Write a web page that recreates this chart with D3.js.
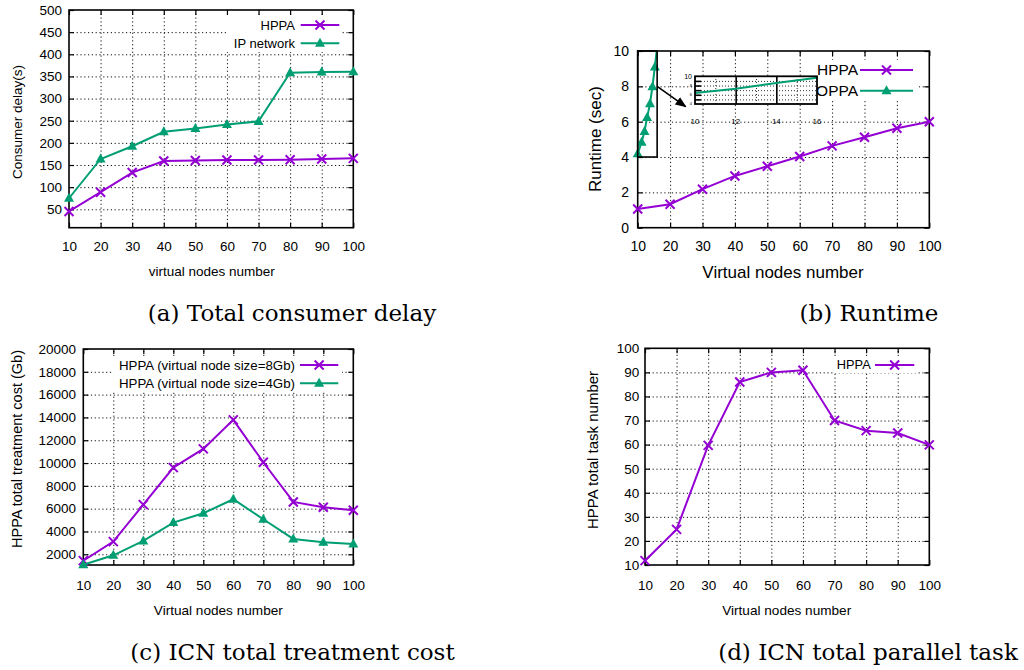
<!DOCTYPE html>
<html><head><meta charset="utf-8">
<script src="https://cdn.jsdelivr.net/npm/d3@7"></script>
<style>
body{margin:0;background:#fff}
svg{display:block}
text{font-family:"Liberation Sans",Arial,Helvetica,sans-serif;fill:#000}
text.cap{font-family:"DejaVu Serif","Liberation Serif",serif}
</style>
</head><body>
<svg id="c" width="1024" height="670"></svg>
<script>
// ---------------- data ----------------
const nodes = [10,20,30,40,50,60,70,80,90,100];
const nodeTicks = [10,20,30,40,50,60,70,80,90,100];

// (a) Total consumer delay
const delayHPPA = [45, 88.6, 133, 159, 160, 161.4, 161.4, 162, 163.6, 165];
const delayIP   = [75, 163.6, 192.4, 225, 232.6, 241.7, 248.5, 358.3, 359.8, 360.6];
const delayTicks = [50,100,150,200,250,300,350,400,450,500];

// (b) Runtime
const runtimeHPPA = [1.06, 1.33, 2.18, 2.93, 3.48, 4.03, 4.63, 5.12, 5.63, 6.0];
const oppaNodes   = [10, 11.2, 12.1, 12.9, 13.8, 14.55, 15.3, 16.2];
const runtimeOPPA = [4.18, 4.84, 5.45, 6.23, 7.02, 7.98, 9.1, 10.6];
const runtimeTicks = [0,2,4,6,8,10];
const insetNodes = [10,12,14,16];
const insetOPPA  = [6.4, 7.3, 8.55, 9.7];
const insetXTicks = [10,12,14,16];
const insetYTicks = [4,6,8,10];

// (c) ICN total treatment cost
const cost8Gb = [1440, 3111, 6357, 9602, 11240, 13784, 10070, 6591, 6123, 5860];
const cost4Gb = [1080, 1912, 3170, 4778, 5596, 6825, 5070, 3345, 3053, 2906];
const costTicks = [2000,4000,6000,8000,10000,12000,14000,16000,18000,20000];

// (d) ICN total parallel task
const taskHPPA = [11.8, 24.8, 59.7, 86, 90, 90.9, 70, 65.8, 64.8, 59.9];
const taskTicks = [10,20,30,40,50,60,70,80,90,100];

const captions = ["(a) Total consumer delay","(b) Runtime","(c) ICN total treatment cost","(d) ICN total parallel task"];

const PURPLE = "#9400d3", GREEN = "#009e73";
const svg = d3.select("#c");

function marker(g, type, cx, cy, color){
  if(type==="x"){
    const s=4.5;
    g.append("path").attr("d",`M${cx-s},${cy-s}L${cx+s},${cy+s}M${cx-s},${cy+s}L${cx+s},${cy-s}`)
      .attr("stroke",color).attr("stroke-width",2).attr("fill","none");
  } else {
    g.append("path").attr("d",`M${cx},${cy-5.5}L${cx+5},${cy+3.5}L${cx-5},${cy+3.5}Z`).attr("fill",color);
  }
}

let clipId=0;
function drawPanel(p){
  const x=d3.scaleLinear().domain(p.xDomain).range([p.left,p.right]);
  const y=d3.scaleLinear().domain(p.yDomain).range([p.bottom,p.top]);
  const W=p.right-p.left, H=p.bottom-p.top;
  const g=svg.append("g");
  // grid
  const gxs=p.xTicks.filter(t=>t>p.xDomain[0]&&t<p.xDomain[1]);
  const gys=p.yTicks.filter(t=>t>p.yDomain[0]&&t<p.yDomain[1]);
  const gx=g.append("g").attr("transform",`translate(0,${p.bottom})`)
    .call(d3.axisBottom(x).tickValues(gxs).tickSize(-H).tickFormat(""));
  const gy=g.append("g").attr("transform",`translate(${p.left},0)`)
    .call(d3.axisLeft(y).tickValues(gys).tickSize(-W).tickFormat(""));
  [gx,gy].forEach(a=>{a.select(".domain").remove();
    a.selectAll("line").attr("stroke","#111").attr("stroke-width",1).attr("stroke-dasharray","1.2,2.6");});
  // ticks
  const T=5;
  const ab=g.append("g").attr("transform",`translate(0,${p.bottom})`)
    .call(d3.axisBottom(x).tickValues(p.xTicks).tickSize(-T).tickFormat(d3.format("d")));
  ab.selectAll("text").attr("y",p.xLabY-p.bottom).attr("dy","0.35em");
  const at=g.append("g").attr("transform",`translate(0,${p.top})`)
    .call(d3.axisTop(x).tickValues(p.xTicks).tickSize(-T).tickFormat(""));
  const al=g.append("g").attr("transform",`translate(${p.left},0)`)
    .call(d3.axisLeft(y).tickValues(p.yTicks).tickSize(-T).tickPadding(p.left-p.yLabX).tickFormat(d3.format("d")));
  const ar=g.append("g").attr("transform",`translate(${p.right},0)`)
    .call(d3.axisRight(y).tickValues(p.yTicks).tickSize(-T).tickFormat(""));
  [ab,at,al,ar].forEach(a=>{a.attr("font-family",null).attr("font-size",p.tickFont);
    a.select(".domain").remove();
    a.selectAll("line").attr("stroke","#000").attr("stroke-width",1.2);});
  // frame
  g.append("rect").attr("x",p.left).attr("y",p.top).attr("width",W).attr("height",H)
    .attr("fill","none").attr("stroke","#000").attr("stroke-width",1.6);
  // clip
  const cid="clip"+(clipId++);
  g.append("clipPath").attr("id",cid).append("rect").attr("x",p.left).attr("y",p.top).attr("width",W).attr("height",H);
  // series
  p.series.forEach(s=>{
    const pts=s.x.map((v,i)=>[v,s.y[i]]);
    g.append("path").datum(pts).attr("clip-path",`url(#${cid})`)
      .attr("d",d3.line().x(d=>x(d[0])).y(d=>y(d[1])))
      .attr("fill","none").attr("stroke",s.color).attr("stroke-width",2);
    const mg=g.append("g");
    pts.filter(d=>d[1]<=p.yDomain[1]).forEach(d=>marker(mg,s.marker,x(d[0]),y(d[1]),s.color));
  });
  if(p.extraAbove) p.extraAbove(g,x,y);
  // legend
  const L=p.legend;
  g.append("rect").attr("x",L.bx0).attr("y",L.by0).attr("width",L.bx1-L.bx0).attr("height",L.by1-L.by0).attr("fill","#fff");
  p.series.forEach((s,i)=>{
    const ly=L.y[i];
    g.append("text").attr("x",L.textX).attr("y",ly).attr("text-anchor","end").attr("dy","0.35em")
      .style("font-size",L.font+"px").text(s.name);
    g.append("line").attr("x1",L.l0).attr("x2",L.l1).attr("y1",ly).attr("y2",ly).attr("stroke",s.color).attr("stroke-width",2);
    marker(g,s.marker,(L.l0+L.l1)/2,ly,s.color);
  });
  // axis titles
  g.append("text").attr("x",p.xTitle[0]).attr("y",p.xTitle[1]).attr("text-anchor","middle").attr("dy","0.35em")
    .style("font-size",p.xTitle[2]+"px").text(p.xTitleText);
  g.append("text").attr("transform",`translate(${p.yTitle[0]},${p.yTitle[1]}) rotate(-90)`).attr("text-anchor","middle").attr("dy","0.35em")
    .style("font-size",p.yTitle[2]+"px").text(p.yTitleText);
  return {x,y};
}

// (a)
drawPanel({left:69,right:353.3,top:10,bottom:227.7,xDomain:[10,100],yDomain:[8.45,500],
  xTicks:nodeTicks,yTicks:delayTicks,xLabY:246.7,yLabX:62,tickFont:13.5,
  series:[{name:"HPPA",x:nodes,y:delayHPPA,color:PURPLE,marker:"x"},
          {name:"IP network",x:nodes,y:delayIP,color:GREEN,marker:"t"}],
  legend:{bx0:226,bx1:342,by0:16,by1:52,textX:295,y:[25,43.3],l0:300.7,l1:339.3,font:13},
  xTitle:[211.7,271.7,13.5],xTitleText:"virtual nodes number",
  yTitle:[17,122,13.5],yTitleText:"Consumer delay(s)"});

// (b)
drawPanel({left:637.7,right:929.3,top:51,bottom:227.7,xDomain:[10,100],yDomain:[0,10],
  xTicks:nodeTicks,yTicks:runtimeTicks,xLabY:246,yLabX:629,tickFont:14,
  series:[{name:"HPPA",x:nodes,y:runtimeHPPA,color:PURPLE,marker:"x"},
          {name:"OPPA",x:oppaNodes,y:runtimeOPPA,color:GREEN,marker:"t"}],
  legend:{bx0:815,bx1:918,by0:60,by1:101,textX:858,y:[70,90.7],l0:860,l1:913,font:15.5},
  xTitle:[783,271.7,17],xTitleText:"Virtual nodes number",
  yTitle:[595,139,17],yTitleText:"Runtime (sec)",
  extraAbove:(g,x,y)=>{
    // zoom box
    g.append("rect").attr("x",x(10)).attr("y",y(10)).attr("width",x(16)-x(10)).attr("height",y(4)-y(10))
      .attr("fill","none").attr("stroke","#000").attr("stroke-width",1.6);
  }});

// inset of (b), drawn on top
(function(){
  const xi=d3.scaleLinear().domain([10,16]).range([695,817]);
  const yi=d3.scaleLinear().domain([4,10]).range([104,76.3]);
  const g=svg.append("g");
  g.append("rect").attr("x",xi(10)).attr("y",yi(10)).attr("width",xi(16)-xi(10)).attr("height",yi(4)-yi(10)).attr("fill","#fff");
  const gy=g.append("g").attr("transform",`translate(${xi(10)},0)`)
    .call(d3.axisLeft(yi).tickValues([5,6,7,8,9]).tickSize(-(xi(16)-xi(10))).tickFormat(""));
  const gx=g.append("g").attr("transform",`translate(0,${yi(4)})`)
    .call(d3.axisBottom(xi).tickValues([11,13,15]).tickSize(-(yi(4)-yi(10))).tickFormat(""));
  [gx,gy].forEach(a=>{a.select(".domain").remove();a.selectAll("line").attr("stroke","#333").attr("stroke-dasharray","1,2");});
  const sv=g.append("g").attr("transform",`translate(0,${yi(4)})`)
    .call(d3.axisBottom(xi).tickValues([12,14]).tickSize(-(yi(4)-yi(10))).tickFormat(""));
  sv.select(".domain").remove(); sv.selectAll("line").attr("stroke","#000").attr("stroke-width",1.6);
  const lt=g.append("g").attr("transform",`translate(${xi(10)},0)`)
    .call(d3.axisLeft(yi).tickValues([5,6,7,8,9]).tickSize(-6).tickFormat(""));
  lt.select(".domain").remove(); lt.selectAll("line").attr("stroke","#000").attr("stroke-width",1.6);
  g.append("path").datum(insetNodes.map((v,i)=>[v,insetOPPA[i]]))
    .attr("d",d3.line().x(d=>xi(d[0])).y(d=>yi(d[1]))).attr("fill","none").attr("stroke",GREEN).attr("stroke-width",2);
  g.append("rect").attr("x",xi(10)).attr("y",yi(10)).attr("width",xi(16)-xi(10)).attr("height",yi(4)-yi(10))
    .attr("fill","none").attr("stroke","#000").attr("stroke-width",1.8);
  g.selectAll("text.ix").data(insetXTicks).join("text").attr("class","ix")
    .attr("x",d=>xi(d)).attr("y",121.5).attr("dy","0.35em").attr("text-anchor","middle").style("font-size","8px").text(d=>d);
  g.selectAll("text.iy").data(insetYTicks).join("text").attr("class","iy")
    .attr("x",692).attr("y",d=>yi(d)).attr("dy","0.35em").attr("text-anchor","end")
    .style("font-size",d=>d===10?"7px":"4px").text(d=>d);
  svg.append("defs").append("marker").attr("id","ah").attr("viewBox","0 0 10 10").attr("refX",9).attr("refY",5)
    .attr("markerWidth",7).attr("markerHeight",7).attr("orient","auto-start-reverse")
    .append("path").attr("d","M0,1L10,5L0,9Z").attr("fill","#000");
})();
(function(){
  // arrow from zoom box to inset, placed with the main (b) scales
  const x=d3.scaleLinear().domain([10,100]).range([637.7,929.3]);
  const y=d3.scaleLinear().domain([0,10]).range([227.7,51]);
  svg.append("line").attr("x1",x(16)).attr("y1",y(8)).attr("x2",x(24.8)).attr("y2",y(6.85))
    .attr("stroke","#000").attr("stroke-width",1.6).attr("marker-end","url(#ah)");
})();

// (c)
drawPanel({left:83.3,right:353.3,top:349,bottom:565,xDomain:[10,100],yDomain:[1060,20000],
  xTicks:nodeTicks,yTicks:costTicks,xLabY:585,yLabX:76,tickFont:13.5,
  series:[{name:"HPPA (virtual node size=8Gb)",x:nodes,y:cost8Gb,color:PURPLE,marker:"x"},
          {name:"HPPA (virtual node size=4Gb)",x:nodes,y:cost4Gb,color:GREEN,marker:"t"}],
  legend:{bx0:112,bx1:342,by0:356,by1:392,textX:295,y:[365,383.3],l0:300,l1:338.3,font:13.3},
  xTitle:[218.3,610,13.6],xTitleText:"Virtual nodes number",
  yTitle:[16.7,449,14.5],yTitleText:"HPPA total treatment cost (Gb)"});

// (d)
drawPanel({left:645,right:929.3,top:348.3,bottom:565,xDomain:[10,100],yDomain:[10,100],
  xTicks:nodeTicks,yTicks:taskTicks,xLabY:585,yLabX:639.3,tickFont:13.5,
  series:[{name:"HPPA",x:nodes,y:taskHPPA,color:PURPLE,marker:"x"}],
  legend:{bx0:834,bx1:918,by0:357,by1:373,textX:870.7,y:[365],l0:875,l1:914.3,font:12.8},
  xTitle:[786.7,610,13.6],xTitleText:"Virtual nodes number",
  yTitle:[593,450,15],yTitleText:"HPPA total task number"});

// captions
const capPos=[[292,313],[869,313],[292.5,652],[868,652]];
svg.selectAll("text.cap").data(captions).join("text").attr("class","cap")
  .attr("x",(d,i)=>capPos[i][0]).attr("y",(d,i)=>capPos[i][1]).attr("dy","0.35em")
  .attr("text-anchor","middle").style("font-size","23px").text(d=>d);
</script>
</body></html>
